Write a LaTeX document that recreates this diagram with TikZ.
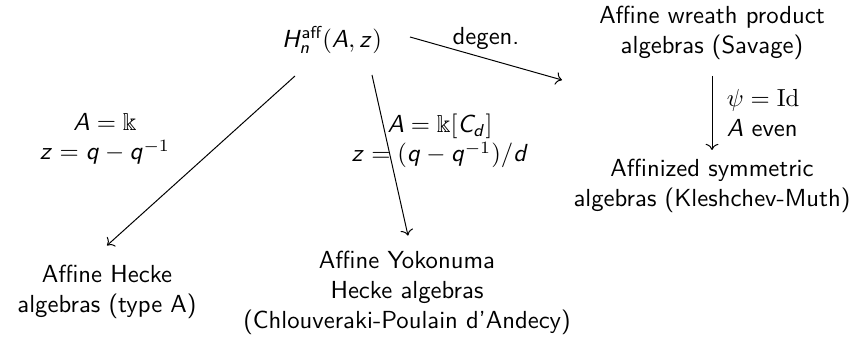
\documentclass[tikz,border=0pt]{standalone}
\usepackage{amsmath,amsfonts,amssymb}
\usetikzlibrary{arrows.meta,positioning,calc}

% sans slanted letters in math
\DeclareSymbolFont{sfletters}{OT1}{cmss}{m}{sl}
\DeclareMathSymbol{A}{\mathalpha}{sfletters}{`A}
\DeclareMathSymbol{C}{\mathalpha}{sfletters}{`C}
\DeclareMathSymbol{H}{\mathalpha}{sfletters}{`H}
\DeclareMathSymbol{d}{\mathalpha}{sfletters}{`d}
\DeclareMathSymbol{n}{\mathalpha}{sfletters}{`n}
\DeclareMathSymbol{q}{\mathalpha}{sfletters}{`q}
\DeclareMathSymbol{z}{\mathalpha}{sfletters}{`z}

\begin{document}
\begin{tikzpicture}[
    x=0.405pt, y=-0.405pt,
    font=\sffamily,
    algebra/.style={align=center, inner sep=3pt},
    cond/.style={align=center, inner sep=1pt},
    arr/.style={-{To}, line width=0.4pt}
]
\useasboundingbox (0,0) rectangle (862,345);

% Algebras
\node[algebra] (haff) at (332, 40) {$H_n^{\text{aff}}(A,z)$};

\node[algebra] (wreath) at (712, 33) {
    Affine wreath product\\
    algebras (Savage)
};

\node[algebra] (affsym) at (712, 186) {
    Affinized symmetric\\
    algebras (Kleshchev-Muth)
};

\node[algebra] (hecke) at (107, 292) {
    Affine Hecke\\
    algebras (type A)
};

\node[algebra] (yoko) at (407, 293) {
    Affine Yokonuma\\
    Hecke algebras\\
    (Chlouveraki-Poulain d'Andecy)
};

% Specializations
\draw[arr] ($(haff.center)+(-37,36)$) -- ($(hecke.north)+(0,-12)$);
\node[cond] (condH) at (105, 139) {$A = \Bbbk$\\$z = q - q^{-1}$};

\draw[arr] ($(haff.center)+(40,35)$) -- ($(yoko.north)+(1,-8)$);
\node[cond] (condY) at (440, 141) {$A = \Bbbk[C_d]$\\$z = (q - q^{-1})/d$};

% Degeneration
\draw[arr] ($(haff.center)+(78,-3)$) -- node[above] {degen.} ($(wreath.center)+(-150,47)$);

\draw[arr] ($(wreath.center)+(0,43)$) -- node[right, xshift=2.5pt, align=left]
    {$\psi = \mathrm{Id}$\\$A$ even} ($(affsym.center)+(0,-36)$);

\end{tikzpicture}
\end{document}
